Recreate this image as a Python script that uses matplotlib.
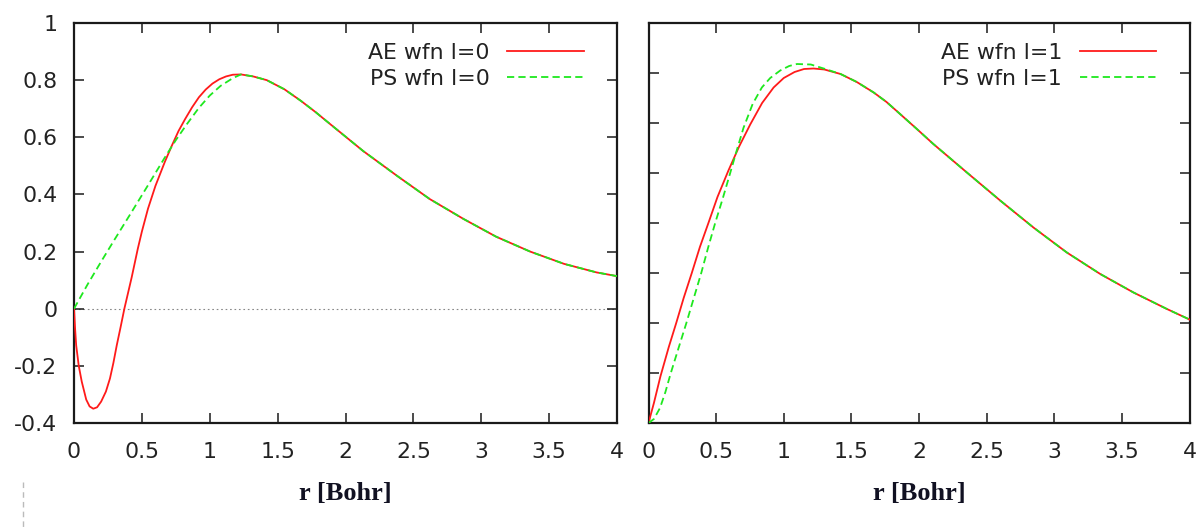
import matplotlib
matplotlib.use("Agg")
import matplotlib.pyplot as plt
from matplotlib.lines import Line2D

# ---------------- data ----------------
r_ae0 = [0.0, 0.008, 0.016, 0.035, 0.057, 0.09, 0.115, 0.142, 0.17, 0.2, 0.235, 0.265,
         0.29, 0.315, 0.343, 0.371, 0.425, 0.47, 0.5, 0.545, 0.6, 0.67, 0.72, 0.77,
         0.82, 0.87, 0.92, 0.97, 1.02, 1.07, 1.12, 1.17, 1.23, 1.32, 1.42, 1.55, 1.67,
         1.78, 1.89, 2.13, 2.38, 2.62, 2.87, 3.11, 3.36, 3.61, 3.85, 4.0]
v_ae0 = [0.0, -0.07, -0.128, -0.2, -0.255, -0.318, -0.342, -0.35, -0.345, -0.325, -0.29, -0.244,
         -0.19, -0.128, -0.065, 0.0, 0.11, 0.21, 0.27, 0.35, 0.43, 0.515, 0.57, 0.622,
         0.665, 0.705, 0.74, 0.767, 0.788, 0.803, 0.813, 0.819, 0.82, 0.813, 0.8, 0.768, 0.728,
         0.688, 0.645, 0.552, 0.465, 0.384, 0.314, 0.252, 0.2, 0.157, 0.127, 0.114]

r_ps0 = [0.0, 0.1, 0.2, 0.3, 0.42, 0.545, 0.67, 0.75, 0.83, 0.92, 1.0, 1.08, 1.17, 1.23,
         1.32, 1.42, 1.55, 1.67, 1.78, 1.89, 2.13, 2.38, 2.62, 2.87, 3.11, 3.36, 3.61, 3.85, 4.0]
v_ps0 = [0.0, 0.085, 0.165, 0.243, 0.335, 0.432, 0.53, 0.59, 0.645, 0.703, 0.746, 0.78, 0.807, 0.82,
         0.813, 0.8, 0.768, 0.728, 0.688, 0.645, 0.552, 0.465, 0.384, 0.314, 0.252, 0.2, 0.157, 0.127, 0.114]

r_ae1 = [0.0, 0.04, 0.088, 0.15, 0.205, 0.26, 0.32, 0.38, 0.443, 0.51, 0.591, 0.67, 0.752,
         0.84, 0.925, 1.0, 1.08, 1.15, 1.22, 1.3, 1.42, 1.54, 1.665, 1.76, 1.86, 1.98,
         2.106, 2.354, 2.6, 2.846, 3.093, 3.34, 3.586, 3.833, 4.0]
v_ae1 = [0.0, 0.04, 0.093, 0.152, 0.2, 0.25, 0.3, 0.352, 0.4, 0.452, 0.505, 0.553, 0.597,
         0.64, 0.671, 0.69, 0.702, 0.708, 0.709, 0.707, 0.698, 0.682, 0.661, 0.642, 0.618, 0.589,
         0.558, 0.501, 0.445, 0.391, 0.341, 0.298, 0.261, 0.228, 0.207]

r_ps1 = [0.0, 0.04, 0.085, 0.125, 0.165, 0.22, 0.28, 0.335, 0.39, 0.44, 0.493, 0.55, 0.604,
         0.65, 0.702, 0.77, 0.838, 0.9, 0.974, 1.04, 1.098, 1.2, 1.295, 1.42, 1.54, 1.665,
         1.76, 1.86, 1.98, 2.106, 2.354, 2.6, 2.846, 3.093, 3.34, 3.586, 3.833, 4.0]
v_ps1 = [0.0, 0.008, 0.03, 0.062, 0.1, 0.148, 0.2, 0.25, 0.3, 0.35, 0.4, 0.45, 0.5,
         0.543, 0.59, 0.638, 0.671, 0.69, 0.705, 0.714, 0.718, 0.717, 0.709, 0.698, 0.682, 0.661,
         0.642, 0.618, 0.589, 0.558, 0.501, 0.445, 0.391, 0.341, 0.298, 0.261, 0.228, 0.207]

x_ticks = [0, 0.5, 1, 1.5, 2, 2.5, 3, 3.5, 4]
x_ticklabels = ["0", "0.5", "1", "1.5", "2", "2.5", "3", "3.5", "4"]
y_ticks_left = [-0.4, -0.2, 0, 0.2, 0.4, 0.6, 0.8, 1]
y_ticklabels_left = ["-0.4", "-0.2", "0", "0.2", "0.4", "0.6", "0.8", "1"]
y_ticks_right = [0, 0.1, 0.2, 0.3, 0.4, 0.5, 0.6, 0.7, 0.8]

labels_left = ["AE wfn l=0", "PS wfn l=0"]
labels_right = ["AE wfn l=1", "PS wfn l=1"]
xlabel_text = "r [Bohr]"

# ---------------- style ----------------
RED = "#ff1a1a"
GREEN = "#1ee81e"
SPINE = "#1a1a1a"
TICKFONT = 15.8

plt.rcParams["font.family"] = ["DejaVu Sans"]

fig = plt.figure(figsize=(12.02, 5.27), dpi=100)
ax1 = fig.add_axes([74 / 1202, 1 - 423 / 527, 543 / 1202, 400 / 527])
ax2 = fig.add_axes([648.5 / 1202, 1 - 423 / 527, 541 / 1202, 400 / 527])


def style_axes(ax, yticks, ylabels):
    ax.set_xlim(0, 4)
    ax.set_xticks(x_ticks)
    ax.set_xticklabels(x_ticklabels)
    ax.set_yticks(yticks)
    if ylabels is None:
        ax.set_yticklabels([])
    else:
        ax.set_yticklabels(ylabels)
    ax.tick_params(direction="in", length=7, width=1.1, color=SPINE,
                   top=True, right=True, labelsize=TICKFONT, labelcolor="#222222")
    ax.tick_params(axis="x", pad=14)
    ax.tick_params(axis="y", pad=12)
    for s in ax.spines.values():
        s.set_linewidth(1.6)
        s.set_color(SPINE)
    ax.set_xlabel(xlabel_text, family="Liberation Serif", fontweight="bold",
                  fontsize=19, color="#111122")
    ax.xaxis.set_label_coords(0.5, -0.177)
    ax.xaxis.label.set_va("center")


# left panel
ax1.set_ylim(-0.4, 1.0)
ax1.axhline(0, color="#888888", lw=0.8, ls=(0, (1.5, 2.5)), zorder=1)
ax1.plot(r_ae0, v_ae0, color=RED, lw=1.3, label=labels_left[0], zorder=3)
ax1.plot(r_ps0, v_ps0, color=GREEN, lw=1.3, ls=(0, (4, 2.3)), label=labels_left[1], zorder=4)
style_axes(ax1, y_ticks_left, y_ticklabels_left)

# right panel
ax2.set_ylim(0, 0.8)
ax2.plot(r_ae1, v_ae1, color=RED, lw=1.3, label=labels_right[0], zorder=3)
ax2.plot(r_ps1, v_ps1, color=GREEN, lw=1.3, ls=(0, (4, 2.3)), label=labels_right[1], zorder=4)
style_axes(ax2, y_ticks_right, None)

for ax in (ax1, ax2):
    leg = ax.legend(loc="upper right", bbox_to_anchor=(0.939, 0.95), frameon=False,
                    markerfirst=False, fontsize=TICKFONT, handlelength=3.5,
                    handletextpad=0.8, borderpad=0, borderaxespad=0, labelspacing=0.28)
    for t in leg.get_texts():
        t.set_color("#222222")

# small dashed grey artifact at the lower left of the page
fig.add_artist(Line2D([23 / 1202, 23 / 1202], [1 - 482 / 527, 0.0],
                      transform=fig.transFigure, color="#bbbbbb", lw=1.0,
                      ls=(0, (4, 3))))

fig.savefig("out.png", dpi=100, facecolor="white")
